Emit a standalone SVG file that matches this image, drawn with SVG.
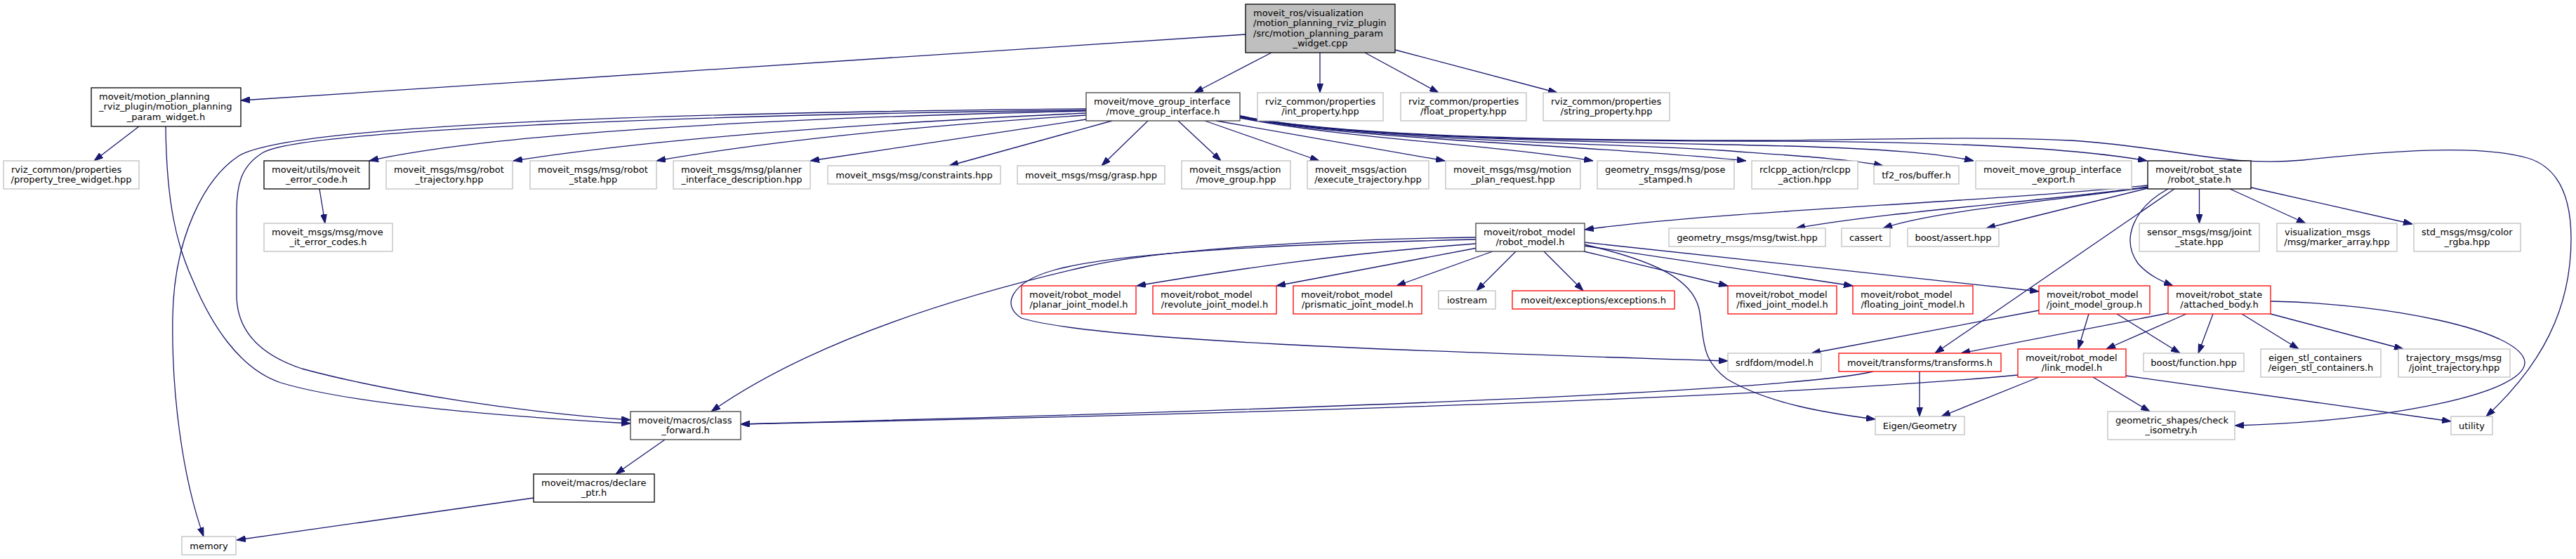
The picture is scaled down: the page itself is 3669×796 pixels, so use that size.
<svg xmlns="http://www.w3.org/2000/svg" width="3669" height="796" viewBox="0 0 3669 796">
<style>
rect{fill:#fff;stroke-width:1.3}
.doc{stroke:#000}
.dk{stroke:#404040}
.ext{stroke:#bfbfbf}
.red{stroke:#ff0000}
.title{fill:#bfbfbf;stroke:#000}
text{font-family:"DejaVu Sans","Liberation Sans",sans-serif;font-size:13px;fill:#000}
.c{text-anchor:middle}
#edges path{fill:none;stroke:#191970;stroke-width:1.3;marker-end:url(#a)}
</style>
<defs>
<marker id="a" markerUnits="userSpaceOnUse" markerWidth="13" markerHeight="9" refX="13" refY="4.5" orient="auto"><path d="M0,0 L13,4.5 L0,9 z" fill="#191970" stroke="#191970" stroke-width="1"/></marker>
</defs>
<rect x="0" y="0" width="3669" height="796" style="fill:#fff;stroke:none"/>
<g id="edges">
<path d="M1774,49 L343,143"/>
<path d="M1811,75 L1701,132"/>
<path d="M1880,75 L1880,132"/>
<path d="M1944,75 L2049,132"/>
<path d="M1987,71 L2218,132"/>
<path d="M198,180 L134,229"/>
<path d="M236,180 C237,290 252,350 275,400 C300,460 340,525 400,545 C500,575 700,592 898,603"/>
<path d="M1547,161 C1250,175 950,195 731,229"/>
<path d="M1547,164 C1300,180 1100,200 935,229"/>
<path d="M1547,170 L1154,229"/>
<path d="M1584,172 L1352,236"/>
<path d="M1635,172 L1569,236"/>
<path d="M1678,172 L1739,229"/>
<path d="M1716,172 L1879,229"/>
<path d="M1732,172 L2058,229"/>
<path d="M1766,168 C1920,198 2120,205 2269,229"/>
<path d="M1766,167 C1930,200 2250,205 2487,229"/>
<path d="M1766,166 C1930,200 2300,204 2450,214 C2560,222 2630,226 2682,236"/>
<path d="M1766,166 C1930,200 2350,203 2550,208 C2680,212 2760,218 2811,229"/>
<path d="M1766,165 C1930,199 2300,201 2500,201 C2750,201 2950,210 3058,229"/>
<path d="M1766,165 C1930,198 2300,200 2500,200 C2650,200 2800,193 2950,200 C3100,210 3170,238 3280,228 C3400,215 3530,205 3600,225 C3650,240 3662,290 3662,340 C3662,440 3620,520 3541,593"/>
<path d="M1547,158 C1100,168 700,190 526,229"/>
<path d="M1547,157 C1000,163 430,185 375,217 C345,235 337,260 337,300 L337,420 C337,470 370,505 430,525 C560,560 750,588 898,598"/>
<path d="M1547,155 C1000,160 420,175 340,222 C290,255 248,340 246,450 C244,560 260,680 290,764"/>
<path d="M3059,264 C2800,290 2450,300 2257,327"/>
<path d="M3059,266 C2900,288 2700,300 2558,325"/>
<path d="M3059,267 C2900,288 2750,302 2682,325"/>
<path d="M3059,268 L2829,325"/>
<path d="M3132.5,269 L3132.5,318"/>
<path d="M3176,269 L3284,318"/>
<path d="M3206,267 L3436,319"/>
<path d="M3088,269 C3040,295 3020,340 3045,375 C3060,392 3078,400 3095,407"/>
<path d="M3097,269 L2756,503"/>
<path d="M2102,338 C1900,340 1650,355 1545,380 C1350,425 1150,490 1013,586"/>
<path d="M2102,341 C1800,348 1580,362 1500,385 C1440,402 1425,435 1455,453 C1560,485 2000,500 2461,514"/>
<path d="M2102,347 C1900,362 1750,385 1619,407"/>
<path d="M2104,353 L1818,407"/>
<path d="M2126,358 L1989,407"/>
<path d="M2159,358 L2103,414"/>
<path d="M2199,358 L2255,414"/>
<path d="M2256,358 L2461,407"/>
<path d="M2256,350 L2639,407"/>
<path d="M2256,345 L2904,415"/>
<path d="M2256,348 C2350,370 2410,395 2420,440 C2428,480 2420,510 2460,540 C2520,575 2600,588 2671,597"/>
<path d="M2904,442 L2580,503"/>
<path d="M2975,447 L2960,497"/>
<path d="M3015,447 L3105,503"/>
<path d="M3088,446 L2793,503"/>
<path d="M3114,447 L3000,497"/>
<path d="M3152,447 L3131,503"/>
<path d="M3193,447 L3274,497"/>
<path d="M3234,447 L3423,497"/>
<path d="M3234,429 C3400,432 3590,470 3596,515 C3600,560 3400,600 3183,606"/>
<path d="M2874,534 C2600,560 2000,585 1055,604"/>
<path d="M2668,529 C2600,545 2300,572 1055,604"/>
<path d="M2904,537 L2765,593"/>
<path d="M2981,537 L3062,586"/>
<path d="M3028,535 L3491,600"/>
<path d="M2734,529 L2734,593"/>
<path d="M947,626 L877,675"/>
<path d="M760,709 L337,769"/>
<path d="M455,269 L463,318"/>
</g>
<g id="n_title"><rect class="title" x="1774" y="6" width="213" height="69"/><text x="1785" y="22.5">moveit_ros/visualization</text><text x="1785" y="37">/motion_planning_rviz_plugin</text><text x="1785" y="51.5">/src/motion_planning_param</text><text class="c" x="1880.5" y="66">_widget.cpp</text></g>
<g id="n_pw"><rect class="doc" x="130" y="125" width="213" height="55"/><text x="141" y="141.5">moveit/motion_planning</text><text x="141" y="156">_rviz_plugin/motion_planning</text><text class="c" x="236.5" y="170.5">_param_widget.h</text></g>
<g id="n_ptw"><rect class="ext" x="5" y="229" width="193" height="40"/><text x="16" y="245.5">rviz_common/properties</text><text class="c" x="101.5" y="260">/property_tree_widget.hpp</text></g>
<g id="n_mgi"><rect class="dk" x="1547" y="132" width="219" height="40"/><text x="1558" y="148.5">moveit/move_group_interface</text><text class="c" x="1656.5" y="163">/move_group_interface.h</text></g>
<g id="n_intp"><rect class="ext" x="1791" y="132" width="179" height="40"/><text x="1802" y="148.5">rviz_common/properties</text><text class="c" x="1880.5" y="163">/int_property.hpp</text></g>
<g id="n_floatp"><rect class="ext" x="1995" y="132" width="179" height="40"/><text x="2006" y="148.5">rviz_common/properties</text><text class="c" x="2084.5" y="163">/float_property.hpp</text></g>
<g id="n_strp"><rect class="ext" x="2198" y="132" width="180" height="40"/><text x="2209" y="148.5">rviz_common/properties</text><text class="c" x="2288" y="163">/string_property.hpp</text></g>
<g id="n_errc"><rect class="doc" x="376" y="229" width="150" height="40"/><text x="387" y="245.5">moveit/utils/moveit</text><text class="c" x="451" y="260">_error_code.h</text></g>
<g id="n_rtraj"><rect class="ext" x="550" y="229" width="180" height="40"/><text x="561" y="245.5">moveit_msgs/msg/robot</text><text class="c" x="640" y="260">_trajectory.hpp</text></g>
<g id="n_rsh"><rect class="ext" x="755" y="229" width="180" height="40"/><text x="766" y="245.5">moveit_msgs/msg/robot</text><text class="c" x="845" y="260">_state.hpp</text></g>
<g id="n_pid"><rect class="ext" x="959" y="229" width="195" height="40"/><text x="970" y="245.5">moveit_msgs/msg/planner</text><text class="c" x="1056.5" y="260">_interface_description.hpp</text></g>
<g id="n_constraints"><rect class="ext" x="1179" y="236" width="246" height="26"/><text class="c" x="1302" y="253.5">moveit_msgs/msg/constraints.hpp</text></g>
<g id="n_grasp"><rect class="ext" x="1449" y="236" width="210" height="26"/><text class="c" x="1554" y="253.5">moveit_msgs/msg/grasp.hpp</text></g>
<g id="n_amg"><rect class="ext" x="1683" y="229" width="155" height="40"/><text x="1694" y="245.5">moveit_msgs/action</text><text class="c" x="1760.5" y="260">/move_group.hpp</text></g>
<g id="n_exec"><rect class="ext" x="1862" y="229" width="173" height="40"/><text x="1873" y="245.5">moveit_msgs/action</text><text class="c" x="1948.5" y="260">/execute_trajectory.hpp</text></g>
<g id="n_mpr"><rect class="ext" x="2059" y="229" width="192" height="40"/><text x="2070" y="245.5">moveit_msgs/msg/motion</text><text class="c" x="2155" y="260">_plan_request.hpp</text></g>
<g id="n_pose"><rect class="ext" x="2275" y="229" width="195" height="40"/><text x="2286" y="245.5">geometry_msgs/msg/pose</text><text class="c" x="2372.5" y="260">_stamped.h</text></g>
<g id="n_rclcpp"><rect class="ext" x="2495" y="229" width="151" height="40"/><text x="2506" y="245.5">rclcpp_action/rclcpp</text><text class="c" x="2570.5" y="260">_action.hpp</text></g>
<g id="n_tf2"><rect class="ext" x="2669" y="236" width="121" height="26"/><text class="c" x="2729.5" y="253.5">tf2_ros/buffer.h</text></g>
<g id="n_export"><rect class="ext" x="2814" y="229" width="222" height="40"/><text x="2825" y="245.5">moveit_move_group_interface</text><text class="c" x="2925" y="260">_export.h</text></g>
<g id="n_rs"><rect class="doc" x="3059" y="229" width="147" height="40"/><text x="3070" y="245.5">moveit/robot_state</text><text class="c" x="3132.5" y="260">/robot_state.h</text></g>
<g id="n_memory"><rect class="ext" x="259" y="764" width="77" height="26"/><text class="c" x="297.5" y="781.5">memory</text></g>
<g id="n_errcodes"><rect class="ext" x="376" y="318" width="183" height="40"/><text x="387" y="334.5">moveit_msgs/msg/move</text><text class="c" x="467.5" y="349">_it_error_codes.h</text></g>
<g id="n_rm"><rect class="dk" x="2102" y="318" width="155" height="40"/><text x="2113" y="334.5">moveit/robot_model</text><text class="c" x="2179.5" y="349">/robot_model.h</text></g>
<g id="n_twist"><rect class="ext" x="2377" y="325" width="223" height="26"/><text class="c" x="2488.5" y="342.5">geometry_msgs/msg/twist.hpp</text></g>
<g id="n_cassert"><rect class="ext" x="2623" y="325" width="69" height="26"/><text class="c" x="2657.5" y="342.5">cassert</text></g>
<g id="n_bassert"><rect class="ext" x="2717" y="325" width="130" height="26"/><text class="c" x="2782" y="342.5">boost/assert.hpp</text></g>
<g id="n_jstate"><rect class="ext" x="3047" y="318" width="171" height="40"/><text x="3058" y="334.5">sensor_msgs/msg/joint</text><text class="c" x="3132.5" y="349">_state.hpp</text></g>
<g id="n_marker"><rect class="ext" x="3243" y="318" width="171" height="40"/><text x="3254" y="334.5">visualization_msgs</text><text class="c" x="3328.5" y="349">/msg/marker_array.hpp</text></g>
<g id="n_color"><rect class="ext" x="3438" y="318" width="152" height="40"/><text x="3449" y="334.5">std_msgs/msg/color</text><text class="c" x="3514" y="349">_rgba.hpp</text></g>
<g id="n_planar"><rect class="red" x="1455" y="407" width="163" height="40"/><text x="1466" y="423.5">moveit/robot_model</text><text class="c" x="1536.5" y="438">/planar_joint_model.h</text></g>
<g id="n_revolute"><rect class="red" x="1642" y="407" width="176" height="40"/><text x="1653" y="423.5">moveit/robot_model</text><text class="c" x="1730" y="438">/revolute_joint_model.h</text></g>
<g id="n_prismatic"><rect class="red" x="1842" y="407" width="183" height="40"/><text x="1853" y="423.5">moveit/robot_model</text><text class="c" x="1933.5" y="438">/prismatic_joint_model.h</text></g>
<g id="n_iostream"><rect class="ext" x="2049" y="414" width="81" height="26"/><text class="c" x="2089.5" y="431.5">iostream</text></g>
<g id="n_exceptions"><rect class="red" x="2154" y="414" width="231" height="26"/><text class="c" x="2269.5" y="431.5">moveit/exceptions/exceptions.h</text></g>
<g id="n_fixed"><rect class="red" x="2461" y="407" width="155" height="40"/><text x="2472" y="423.5">moveit/robot_model</text><text class="c" x="2538.5" y="438">/fixed_joint_model.h</text></g>
<g id="n_floating"><rect class="red" x="2639" y="407" width="171" height="40"/><text x="2650" y="423.5">moveit/robot_model</text><text class="c" x="2724.5" y="438">/floating_joint_model.h</text></g>
<g id="n_jmg"><rect class="red" x="2904" y="407" width="158" height="40"/><text x="2915" y="423.5">moveit/robot_model</text><text class="c" x="2983" y="438">/joint_model_group.h</text></g>
<g id="n_ab"><rect class="red" x="3088" y="407" width="146" height="40"/><text x="3099" y="423.5">moveit/robot_state</text><text class="c" x="3161" y="438">/attached_body.h</text></g>
<g id="n_srdf"><rect class="ext" x="2461" y="503" width="133" height="26"/><text class="c" x="2527.5" y="520.5">srdfdom/model.h</text></g>
<g id="n_transforms"><rect class="red" x="2619" y="503" width="231" height="26"/><text class="c" x="2734.5" y="520.5">moveit/transforms/transforms.h</text></g>
<g id="n_link"><rect class="red" x="2874" y="497" width="154" height="40"/><text x="2885" y="513.5">moveit/robot_model</text><text class="c" x="2951" y="528">/link_model.h</text></g>
<g id="n_bfunc"><rect class="ext" x="3053" y="503" width="143" height="26"/><text class="c" x="3124.5" y="520.5">boost/function.hpp</text></g>
<g id="n_eigenstl"><rect class="ext" x="3220" y="497" width="171" height="40"/><text x="3231" y="513.5">eigen_stl_containers</text><text class="c" x="3305.5" y="528">/eigen_stl_containers.h</text></g>
<g id="n_jtraj"><rect class="ext" x="3416" y="497" width="159" height="40"/><text x="3427" y="513.5">trajectory_msgs/msg</text><text class="c" x="3495.5" y="528">/joint_trajectory.hpp</text></g>
<g id="n_cf"><rect class="dk" x="898" y="586" width="157" height="40"/><text x="909" y="602.5">moveit/macros/class</text><text class="c" x="976.5" y="617">_forward.h</text></g>
<g id="n_dp"><rect class="doc" x="760" y="675" width="172" height="40"/><text x="771" y="691.5">moveit/macros/declare</text><text class="c" x="846" y="706">_ptr.h</text></g>
<g id="n_eigen"><rect class="ext" x="2671" y="593" width="127" height="26"/><text class="c" x="2734.5" y="610.5">Eigen/Geometry</text></g>
<g id="n_iso"><rect class="ext" x="3002" y="586" width="181" height="40"/><text x="3013" y="602.5">geometric_shapes/check</text><text class="c" x="3092.5" y="617">_isometry.h</text></g>
<g id="n_utility"><rect class="ext" x="3491" y="593" width="59" height="26"/><text class="c" x="3520.5" y="610.5">utility</text></g>
</svg>
